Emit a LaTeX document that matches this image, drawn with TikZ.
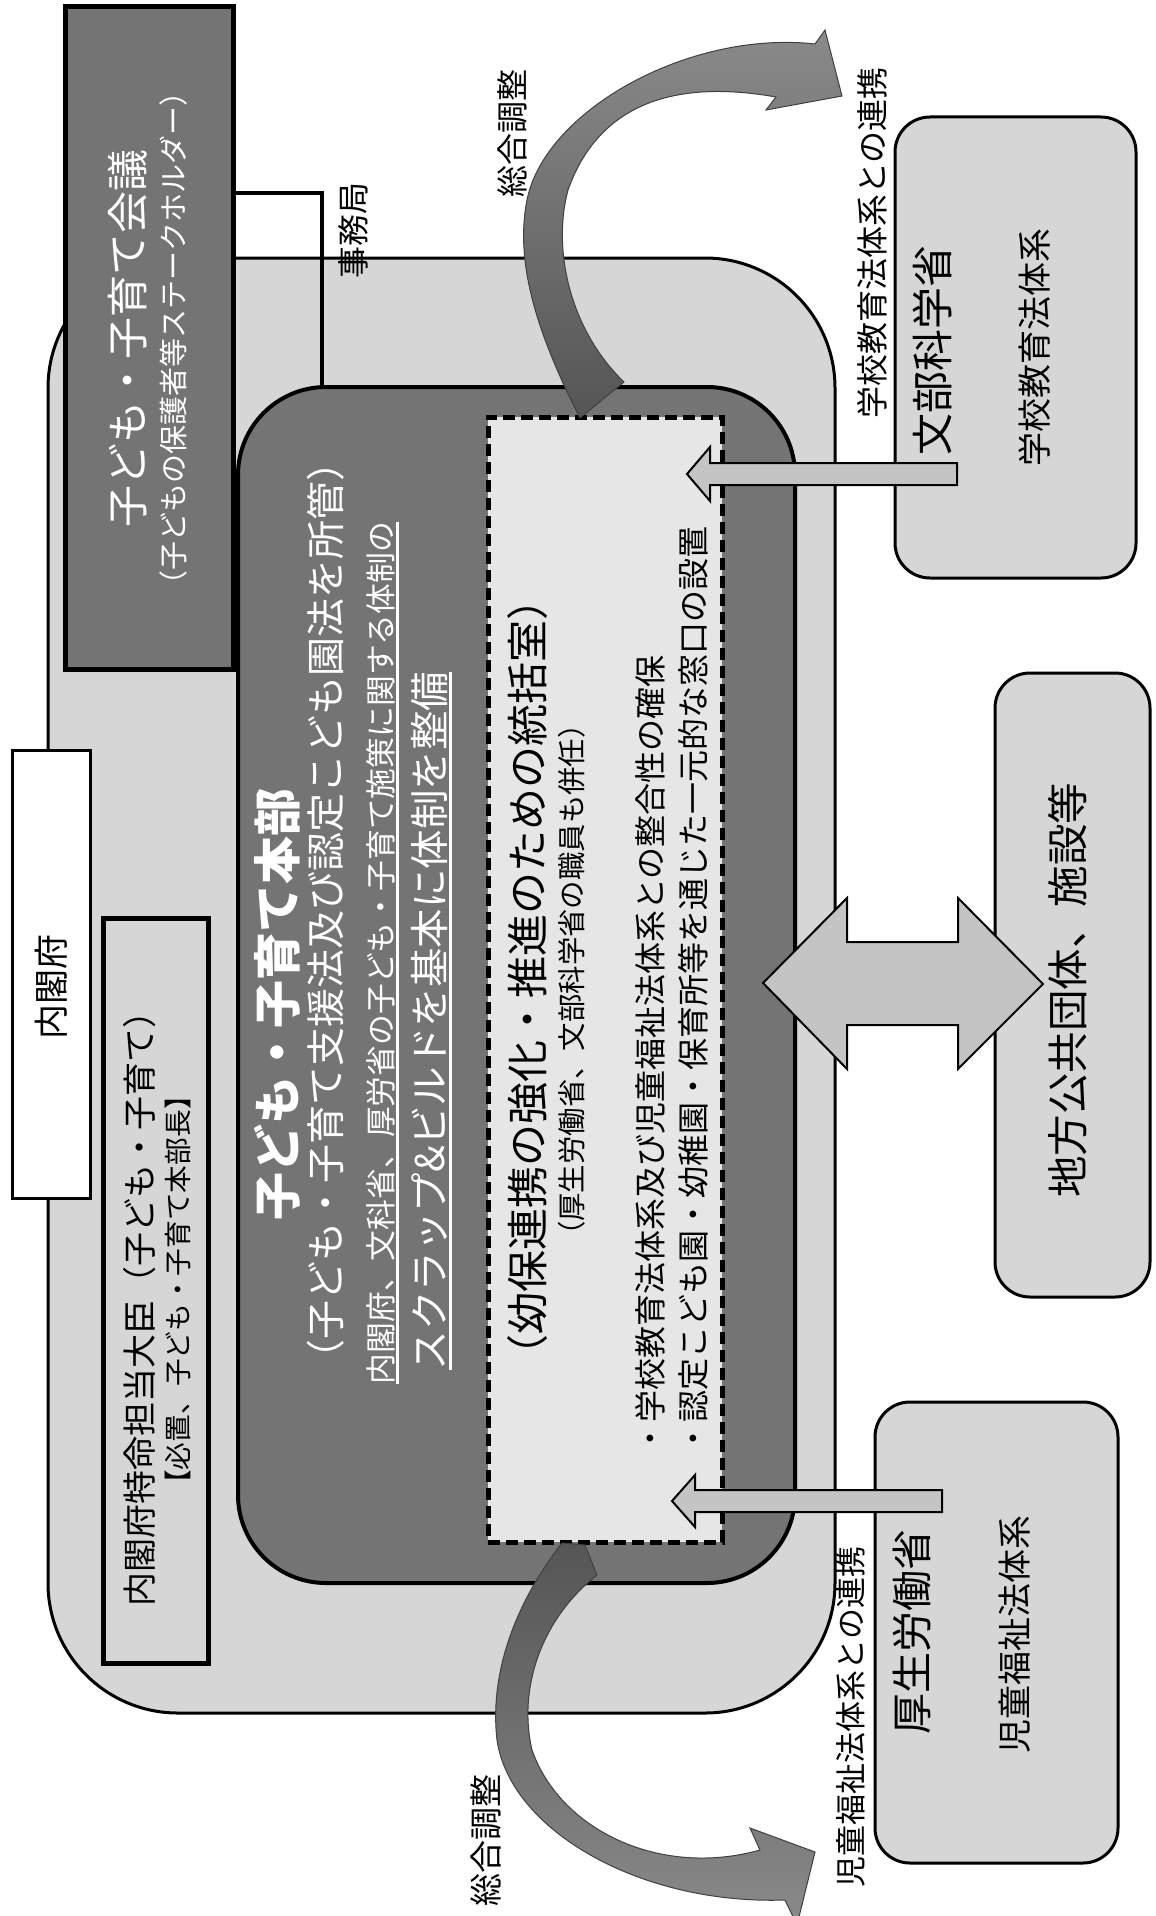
\documentclass[tikz,border=0pt]{standalone}
\usepackage{fontspec}
\newfontfamily\jp{Noto Sans CJK JP}
\usetikzlibrary{calc}
\definecolor{lightg}{HTML}{D6D6D6}
\definecolor{darkg}{HTML}{747474}
\definecolor{dashg}{HTML}{E6E6E6}
\definecolor{arrg}{HTML}{C4C4C4}
\definecolor{curvedark}{HTML}{555555}
\definecolor{curvelight}{HTML}{8A8A8A}
\newcommand\fsz[1]{\fontsize{#1}{#1}\selectfont}
\begin{document}
\begin{tikzpicture}[x=1pt,y=-1pt,
  box/.style={draw=black, line width=3pt, fill=lightg, inner sep=0pt, outer sep=0pt},
  txt/.style={rotate=90, inner sep=0pt, font=\jp},
  wtxt/.style={txt, text=white},
  barrow/.style={draw=black, line width=2pt, fill=arrg, line join=miter},
  carrow/.style={draw=black!75, line width=1pt},
  uline/.style={draw=white, line width=2.5pt}
]
\useasboundingbox (0,0) rectangle (1156,1916);
\fill[white] (0,0) rectangle (1156,1916);
\clip (0,0) rectangle (1156,1916);

% boxes
\node[box, rounded corners=130pt, minimum width=787pt, minimum height=1455pt] (naikaku) at (441.5,985.5) {};
\node[box, line width=5pt, fill=darkg, minimum width=168pt, minimum height=663pt] (kaigi) at (149,338) {};
\node[box, line width=4pt, fill=darkg, rounded corners=88pt, minimum width=557pt, minimum height=1196pt] (honbu) at (516.5,985) {};
\coordinate (jk) at (322,193);
\draw[line width=4pt] (kaigi.east |- jk) -- (jk) -- (jk |- honbu.north);
\node[box, line width=5pt, fill=dashg, dash pattern=on 12pt off 6pt, minimum width=234pt, minimum height=1125pt] (tokatsu) at (605,979.5) {};
\node[box, line width=5pt, minimum width=105pt, minimum height=745pt] (daijin) at (155.5,1290.5) {};
\node[box, line width=3pt, fill=white, minimum width=78pt, minimum height=448pt] (naikakufu) at (51,974) {};
\node[box, rounded corners=35pt, minimum width=241pt, minimum height=461pt] (monka) at (1015.5,347.5) {};
\node[box, rounded corners=35pt, minimum width=243pt, minimum height=461pt] (kosei) at (996.5,1632.5) {};
\node[box, rounded corners=35pt, minimum width=155pt, minimum height=624pt] (chiho) at (1072.5,985) {};

% block arrows
\draw[barrow] (957,463) -- (710,463) -- (710,447) -- (687,474) -- (710,501) -- (710,485) -- (957,485) -- cycle;
\draw[barrow] (942,1490) -- (695,1490) -- (695,1475) -- (672,1501) -- (695,1527) -- (695,1512) -- (942,1512) -- cycle;
\draw[barrow] (763,983) -- (847,898) -- (847,942) -- (958,942) -- (958,898) -- (1043,984) -- (958,1069) -- (958,1025) -- (847,1025) -- (847,1069) -- cycle;

% curved arrows
\path[carrow, top color=curvelight, bottom color=curvedark] (580,418) .. controls (535,330) and (515,260) .. (527,200)
  .. controls (545,110) and (690,30) .. (815,44) -- (825,30) -- (842,96) -- (766,110) -- (776,97)
  .. controls (680,80) and (600,100) .. (568,190)
  .. controls (552,250) and (570,330) .. (624,382) -- cycle;
\path[carrow, top color=curvedark, bottom color=curvelight] (562,1543) .. controls (510,1610) and (490,1680) .. (497,1740)
  .. controls (510,1830) and (640,1905) .. (785,1900) -- (797,1925) -- (815,1852) -- (750,1828) -- (760,1850)
  .. controls (660,1878) and (560,1830) .. (532,1750)
  .. controls (518,1690) and (540,1620) .. (597,1575) -- (585,1545) -- cycle;

% texts
\node[txt, font=\jp\fsz{35}] (t-naikakufu) at (51,987) {内閣府};
\node[wtxt, font=\jp\fsz{42}] (t-kaigi1) at (128,338) {子ども・子育て会議};
\node[wtxt, font=\jp\fsz{29}] (t-kaigi2) at (173,338) {（子どもの保護者等ステークホルダー）};
\node[txt, font=\jp\fsz{32}] (t-jimu) at (353,230) {事務局};
\node[txt, font=\jp\fsz{32}] (t-sogo1) at (512,133) {総合調整};
\node[txt, font=\jp\fsz{33}] (t-sogo2) at (486,1840) {総合調整};
\node[txt, font=\jp\fsz{32}] (t-renkei1) at (872,243) {学校教育法体系との連携};
\node[txt, font=\jp\fsz{31}] (t-renkei2) at (851,1717) {児童福祉法体系との連携};
\node[txt, font=\jp\fsz{42}] (t-monka1) at (932,350) {文部科学省};
\node[txt, font=\jp\fsz{34}] (t-monka2) at (1035,347) {学校教育法体系};
\node[txt, font=\jp\fsz{41}] (t-kosei1) at (912,1632) {厚生労働省};
\node[txt, font=\jp\fsz{34}] (t-kosei2) at (1015,1634) {児童福祉法体系};
\node[txt, font=\jp\fsz{41.5}] (t-chiho) at (1068,990) {地方公共団体、施設等};
\node[txt, font=\jp\fsz{34}] (t-daijin1) at (140,1300) {内閣府特命担当大臣（子ども・子育て）};
\node[txt, font=\jp\fsz{27.7}] (t-daijin2) at (178,1290) {【必置、子ども・子育て本部長】};
\node[wtxt, font=\jp\bfseries\fsz{48}] (t-honbu1) at (277,1004) {子ども・子育て本部};
\node[wtxt, font=\jp\fsz{39}] (t-honbu2) at (326,910) {（子ども・子育て支援法及び認定こども園法を所管）};
\node[wtxt, font=\jp\fsz{30.8}] (t-honbu3) at (381,953) {内閣府、文科省、厚労省の子ども・子育て施策に関する体制の};
\node[wtxt, font=\jp\fsz{39.5}] (t-honbu4) at (430,1021) {スクラップ\&ビルドを基本に体制を整備};
\draw[uline] ([xshift=2pt]t-honbu3.south west) -- ([xshift=2pt]t-honbu3.south east);
\draw[uline] ([xshift=2pt]t-honbu4.south west) -- ([xshift=2pt]t-honbu4.south east);
\node[txt, font=\jp\fsz{42}] (t-tok1) at (528,977) {（幼保連携の強化・推進のための統括室）};
\node[txt, font=\jp\fsz{28.4}] (t-tok2) at (572,980) {（厚生労働省、文部科学省の職員も併任）};
\node[txt, font=\jp\fsz{32}, anchor=west] (t-tok3) at (650,1455) {・学校教育法体系及び児童福祉法体系との整合性の確保};
\node[txt, font=\jp\fsz{32}, anchor=west] (t-tok4) at (693,1455) {・認定こども園・幼稚園・保育所等を通じた一元的な窓口の設置};
\end{tikzpicture}
\end{document}
